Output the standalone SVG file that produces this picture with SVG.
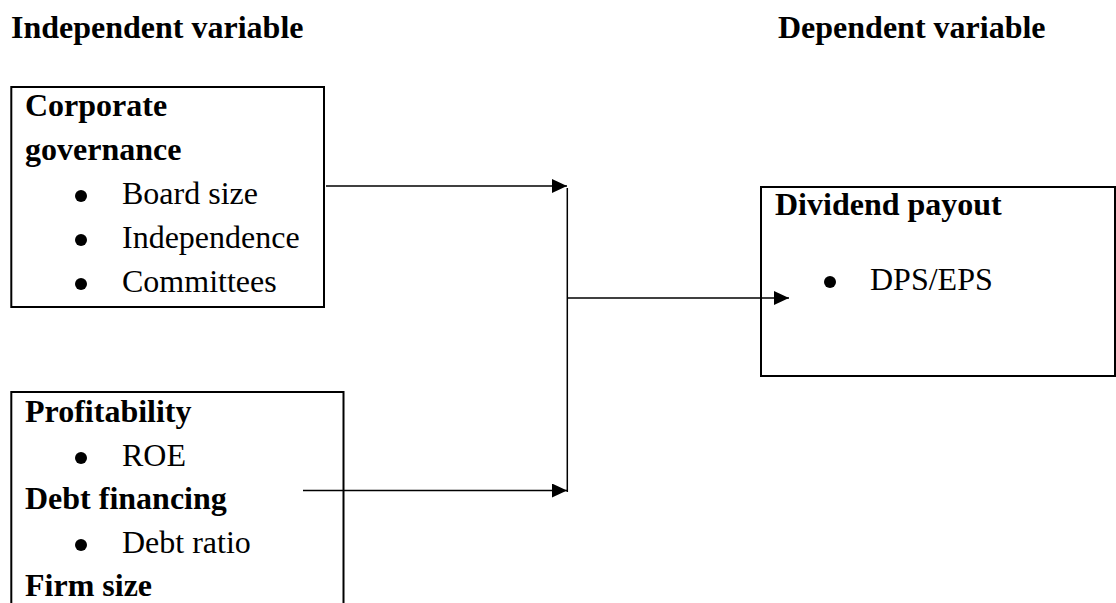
<svg xmlns="http://www.w3.org/2000/svg" width="1116" height="603" viewBox="0 0 1116 603">
  <style>
    .t { font-family: "Liberation Serif", "Times New Roman", serif; font-size: 32px; fill: #000; }
    .b { font-weight: bold; }
    .box { fill: none; stroke: #000; stroke-width: 2; }
    .wire { fill: none; stroke: #000; stroke-width: 1.5; }
    .dot { fill: #000; }
  </style>
  <defs>
    <marker id="arrow" viewBox="0 0 15 14" refX="15" refY="7" markerWidth="15" markerHeight="14" markerUnits="userSpaceOnUse" orient="auto">
      <path d="M0,0 L15,7 L0,14 Z" fill="#000"/>
    </marker>
  </defs>
  <rect width="1116" height="603" fill="#fff"/>

  <!-- column headings -->
  <text class="t b" x="11" y="38">Independent variable</text>
  <text class="t b" x="778" y="38">Dependent variable</text>

  <!-- corporate governance block -->
  <g id="governance">
    <rect class="box" x="11.3" y="87" width="312.7" height="220"/>
    <text class="t b" x="25" y="116">Corporate</text>
    <text class="t b" x="25" y="160">governance</text>
    <circle class="dot" cx="81" cy="196" r="6"/>
    <text class="t" x="122" y="204">Board size</text>
    <circle class="dot" cx="81" cy="240" r="6"/>
    <text class="t" x="122" y="248">Independence</text>
    <circle class="dot" cx="81" cy="284" r="6"/>
    <text class="t" x="122" y="292">Committees</text>
  </g>

  <!-- firm characteristics block -->
  <g id="firm">
    <rect class="box" x="11.3" y="392" width="332.2" height="230"/>
    <text class="t b" x="25" y="422">Profitability</text>
    <circle class="dot" cx="81" cy="458" r="6"/>
    <text class="t" x="122" y="466">ROE</text>
    <text class="t b" x="25" y="509">Debt financing</text>
    <circle class="dot" cx="81" cy="545" r="6"/>
    <text class="t" x="122" y="553">Debt ratio</text>
    <text class="t b" x="25" y="596">Firm size</text>
  </g>

  <!-- dividend payout block -->
  <g id="payout">
    <rect class="box" x="761" y="187" width="354" height="189"/>
    <text class="t b" x="775" y="215">Dividend payout</text>
    <circle class="dot" cx="830" cy="282" r="6"/>
    <text class="t" x="870" y="290">DPS/EPS</text>
  </g>

  <!-- connectors -->
  <g id="connectors">
    <line class="wire" x1="326" y1="186" x2="567" y2="186" marker-end="url(#arrow)"/>
    <line class="wire" x1="303" y1="490.5" x2="567" y2="490.5" marker-end="url(#arrow)"/>
    <line class="wire" x1="567.3" y1="188" x2="567.3" y2="492"/>
    <line class="wire" x1="567.3" y1="298" x2="789" y2="298" marker-end="url(#arrow)"/>
  </g>
</svg>
